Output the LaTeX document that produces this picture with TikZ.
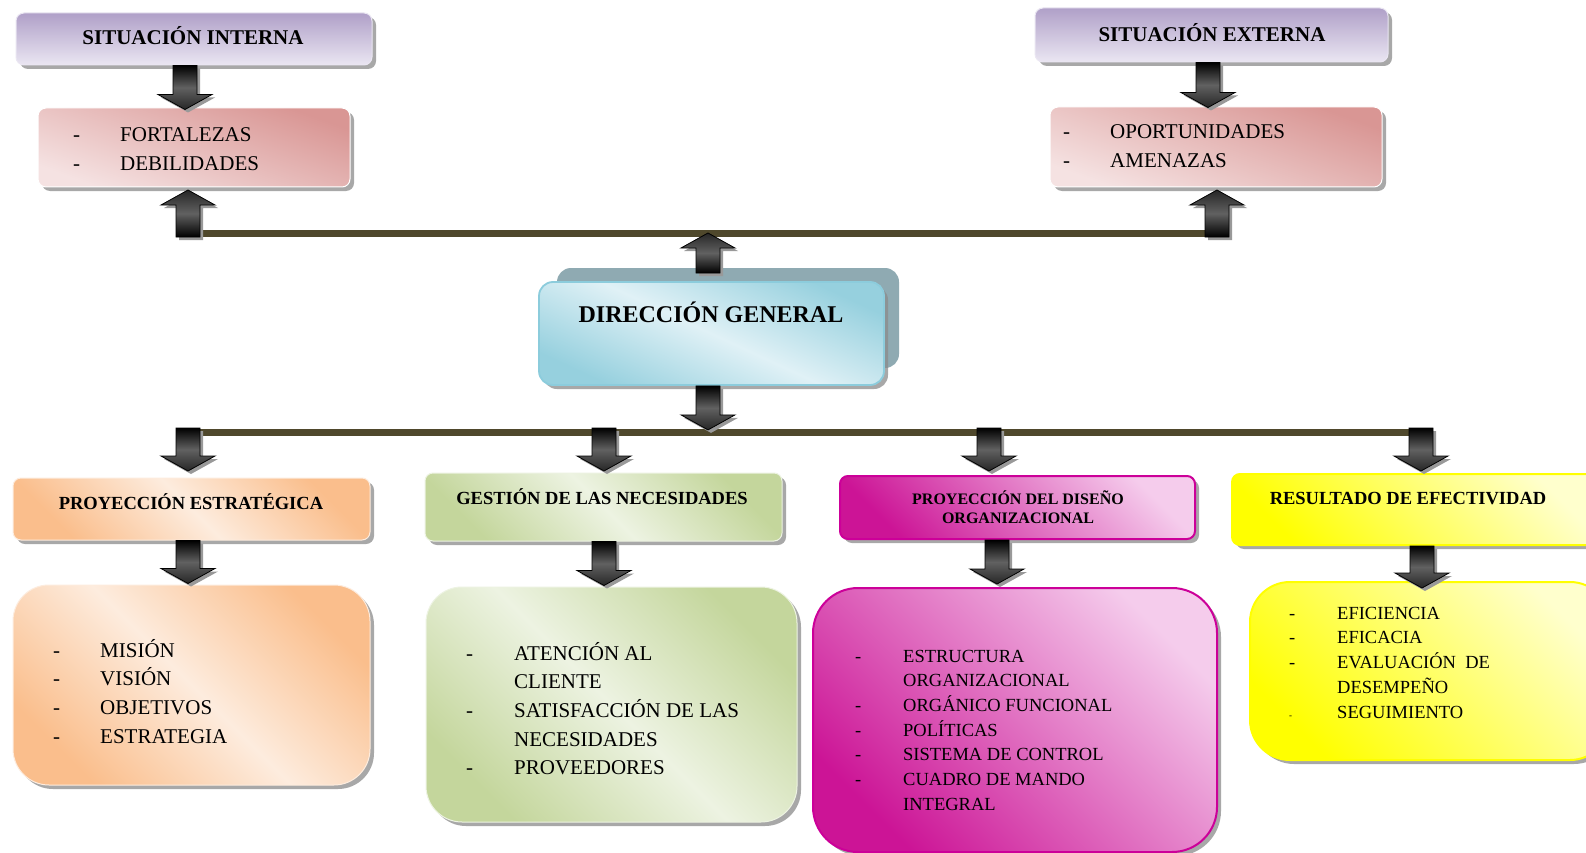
\documentclass[tikz,border=0pt]{standalone}
\usepackage{fontspec}
\setmainfont{Liberation Serif}
\usetikzlibrary{shadows,fit}
\definecolor{purA}{RGB}{176,160,200}
\definecolor{purB}{RGB}{234,230,242}
\definecolor{redA}{RGB}{217,150,148}
\definecolor{redB}{RGB}{245,226,226}
\definecolor{bluA}{RGB}{150,208,222}
\definecolor{bluB}{RGB}{224,241,246}
\definecolor{bluD}{RGB}{140,204,220}
\definecolor{oraA}{RGB}{250,190,140}
\definecolor{oraB}{RGB}{253,236,222}
\definecolor{grnA}{RGB}{196,214,156}
\definecolor{grnB}{RGB}{237,243,226}
\definecolor{magA}{RGB}{204,20,150}
\definecolor{magB}{RGB}{245,204,236}
\definecolor{magD}{RGB}{204,0,153}
\definecolor{yelA}{RGB}{255,255,0}
\definecolor{yelB}{RGB}{255,255,205}
\definecolor{backT}{RGB}{143,170,178}
\definecolor{lineol}{RGB}{79,72,44}
\begin{document}
\begin{tikzpicture}[x=1pt,y=-1pt,
  sh/.style={drop shadow={shadow xshift=4pt,shadow yshift=-4pt,fill=black!45,opacity=.75}},
  bx/.style={sh,inner sep=0pt,rounded corners=#1},
  bx/.default=8pt,
  pur/.style={top color=purA,bottom color=purB,draw=purB,line width=1pt},
  redd/.style={shading=axis,top color=redA,bottom color=redB,shading angle=-20,draw=white,line width=1pt},
  blu/.style={shading=axis,top color=bluA,bottom color=bluA,middle color=bluB,shading angle=-25,draw=bluD,line width=1.8pt},
  ora/.style={shading=axis,top color=oraA,bottom color=oraA,middle color=oraB,shading angle=-45,draw=oraB,line width=1pt},
  grn/.style={shading=axis,top color=grnA,bottom color=grnA,middle color=grnB,shading angle=-45,draw=grnB,line width=1pt},
  mag/.style={shading=axis,top color=magB,bottom color=magA,shading angle=-45,draw=magD,line width=2pt},
  yel/.style={shading=axis,top color=yelB,bottom color=yelA,shading angle=-45,draw=yelA,line width=2pt},
  hline/.style={line width=7pt,draw=lineol},
  hdr/.style={font=\bfseries\fontsize{18.5}{22}\selectfont,anchor=base,inner sep=0pt},
  lst/.style={anchor=base west,inner sep=0pt},
  arrdown/.pic={
    \fill[black!40,xshift=3pt,yshift=-3pt] (-12,0) -- (12,0) -- (12,{#1-15}) -- (27,{#1-15}) -- (0,#1) -- (-27,{#1-15}) -- (-12,{#1-15}) -- cycle;
    \draw[line width=.8pt,top color=black,bottom color=black!85,middle color=black!62] (-12,0) -- (12,0) -- (12,{#1-15}) -- (27,{#1-15}) -- (0,#1) -- (-27,{#1-15}) -- (-12,{#1-15}) -- cycle;
  },
  arrup/.pic={
    \fill[black!40,xshift=3pt,yshift=-3pt] (-12,0) -- (12,0) -- (12,{15-#1}) -- (27,{15-#1}) -- (0,-#1) -- (-27,{15-#1}) -- (-12,{15-#1}) -- cycle;
    \draw[line width=.8pt,top color=black!85,bottom color=black,middle color=black!62] (-12,0) -- (12,0) -- (12,{15-#1}) -- (27,{15-#1}) -- (0,-#1) -- (-27,{15-#1}) -- (-12,{15-#1}) -- cycle;
  }
]
\clip (0,0) rectangle (1586,853);
\fill[white] (0,0) rectangle (1586,853);

% connector bars
\coordinate (tl) at (186,233);
\coordinate (tr) at (1216,233);
\coordinate (bl) at (184,432);
\coordinate (br) at (1424,432);
\draw[hline] (tl) -- (tr);
\draw[hline] (bl) -- (br);

% top boxes
\node[bx,pur,fit={(16,13)(372,65)}] (sitint) {};
\node[bx,redd,fit={(38,108)(350,187)}] (fort) {};
\node[bx,pur,fit={(1035,8)(1388,62)}] (sitext) {};
\node[bx,redd,fit={(1050,107)(1382,187)}] (oport) {};

% direccion general
\node[inner sep=0pt,rounded corners=14pt,fill=backT,fit={(557,268)(899,368)}] (dirback) {};
\node[bx=14pt,blu,fit={(539,282)(884,385)}] (dir) {};

% row headers
\node[bx,ora,fit={(13,478)(370,540)}] (proyest) {};
\node[bx,grn,fit={(425,473)(782,541)}] (gest) {};
\node[bx,mag,fit={(840,476)(1195,539)}] (proydis) {};
\node[bx,yel,fit={(1232,474)(1600,545)}] (result) {};

% content boxes
\node[bx=36pt,ora,fit={(13,585)(370,785)}] (mision) {};
\node[bx=36pt,grn,fit={(426,587)(797,822)}] (atencion) {};
\node[bx=45pt,mag,fit={(813,588)(1217,852)}] (estruct) {};
\node[bx=40pt,yel,fit={(1250,582)(1610,760)}] (efic) {};

% texts
\node[hdr,font=\bfseries\fontsize{21}{24}\selectfont] at (193,45) {SITUACIÓN INTERNA};
\node[hdr,font=\bfseries\fontsize{21}{24}\selectfont] at (1212,42) {SITUACIÓN EXTERNA};
\node[hdr,font=\bfseries\fontsize{24}{28}\selectfont] at (711,322) {DIRECCIÓN GENERAL};
\node[hdr] at (191,509) {PROYECCIÓN ESTRATÉGICA};
\node[hdr] at (602,504) {GESTIÓN DE LAS NECESIDADES};
\node[hdr,font=\bfseries\fontsize{16}{19}\selectfont] at (1018,504) {PROYECCIÓN DEL DISEÑO};
\node[hdr,font=\bfseries\fontsize{16}{19}\selectfont] at (1018,523) {ORGANIZACIONAL};
\node[hdr] at (1408,504) {RESULTADO DE EFECTIVIDAD};

\node[lst,font=\fontsize{21}{28.5}\selectfont] at (73,141.7)
  {\begin{tabular}[t]{@{}p{47pt}@{}l@{}}-&FORTALEZAS\\-&DEBILIDADES\end{tabular}};
\node[lst,font=\fontsize{21}{29}\selectfont] at (1063,138.5)
  {\begin{tabular}[t]{@{}p{47pt}@{}l@{}}-&OPORTUNIDADES\\-&AMENAZAS\end{tabular}};
\node[lst,font=\fontsize{21}{28.7}\selectfont] at (53,657)
  {\begin{tabular}[t]{@{}p{47pt}@{}l@{}}-&MISIÓN\\-&VISIÓN\\-&OBJETIVOS\\-&ESTRATEGIA\end{tabular}};
\node[lst,font=\fontsize{21}{28.7}\selectfont] at (466,660)
  {\begin{tabular}[t]{@{}p{48pt}@{}l@{}}-&ATENCIÓN AL\\&CLIENTE\\-&SATISFACCIÓN DE LAS\\&NECESIDADES\\-&PROVEEDORES\end{tabular}};
\node[lst,font=\fontsize{18.5}{24.67}\selectfont] at (855,662)
  {\begin{tabular}[t]{@{}p{48pt}@{}l@{}}-&ESTRUCTURA\\&ORGANIZACIONAL\\-&ORGÁNICO FUNCIONAL\\-&POLÍTICAS\\-&SISTEMA DE CONTROL\\-&CUADRO DE MANDO\\&INTEGRAL\end{tabular}};
\node[lst,font=\fontsize{18.5}{24.75}\selectfont] at (1289,619)
  {\begin{tabular}[t]{@{}p{48pt}@{}l@{}}-&EFICIENCIA\\-&EFICACIA\\-&EVALUACIÓN\ \ DE\\&DESEMPEÑO\\{\fontsize{9}{10}\selectfont -}&SEGUIMIENTO\end{tabular}};

% block arrows
\pic at (185,0 |- sitint.south) {arrdown=44};
\pic at (1208,0 |- sitext.south) {arrdown=45};
\pic at (188,237) {arrup=47};
\pic at (1217,237) {arrup=47};
\pic at (708,273) {arrup=40};
\pic at (708,0 |- dir.south) {arrdown=44};
\pic at (188,428) {arrdown=43};
\pic at (604,428) {arrdown=43};
\pic at (989,428) {arrdown=43};
\pic at (1421,428) {arrdown=43};
\pic at (188,0 |- proyest.south) {arrdown=43};
\pic at (604,0 |- gest.south) {arrdown=44};
\pic at (997,0 |- proydis.south) {arrdown=44};
\pic at (1422,0 |- result.south) {arrdown=42};
\end{tikzpicture}
\end{document}
